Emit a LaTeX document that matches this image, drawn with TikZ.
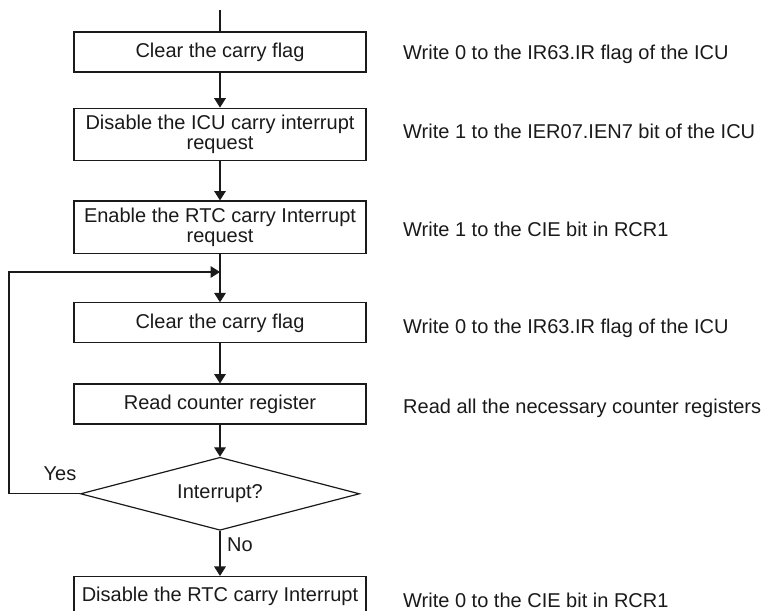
\documentclass[tikz,border=0pt]{standalone}
\usepackage{fontspec}
\setmainfont{Liberation Sans}
\usepackage{tikz}
\usetikzlibrary{arrows.meta, positioning, shapes.geometric}
\definecolor{ink}{HTML}{1A1A1A}

\begin{document}
\begin{tikzpicture}[
    x=0.5pt, y=-0.5pt,
    font=\fontsize{10}{10}\selectfont,
    line width=0.6pt,
    stp/.style={draw=ink, text=ink, minimum width=146pt, minimum height=20pt, inner xsep=2pt, inner ysep=3.5pt, align=center},
    dec/.style={diamond, draw=ink, text=ink, aspect=3.8, inner sep=0pt, minimum width=139.5pt, minimum height=36.5pt},
    note/.style={text=ink, text height=7.2pt, text depth=0pt, inner sep=0pt},
    lbl/.style={text=ink},
    ar/.style={-{Triangle[length=4.7pt, width=5.8pt]}, draw=ink}
  ]
    \useasboundingbox (0,0) rectangle (764,610);
    \clip (0,0) rectangle (764,610);
    \coordinate (top) at (220,10);
    \node[stp] (b1) at (220,52) {Clear the carry flag};
    \node[stp, below=17.5pt of b1] (b2) {Disable the ICU carry interrupt\\request};
    \node[stp, below=19.5pt of b2] (b3) {Enable the RTC carry Interrupt\\request};
    \node[stp, below=24pt of b3] (b4) {Clear the carry flag};
    \node[stp, below=20pt of b4] (b5) {Read counter register};
    \node[dec, below=16pt of b5] (dia) {Interrupt?};
    \node[stp, below=22.5pt of dia] (b6) {Disable the RTC carry Interrupt};
    % notes on the right
    \node[note, right=18pt of b1] (n1) {Write 0 to the IR63.IR flag of the ICU};
    \node[note, right=18pt of b2, yshift=1.75pt] (n2) {Write 1 to the IER07.IEN7 bit of the ICU};
    \node[note, right=18pt of b3, yshift=-1pt] (n3) {Write 1 to the CIE bit in RCR1};
    \node[note, right=18pt of b4, yshift=-1.75pt] (n4) {Write 0 to the IR63.IR flag of the ICU};
    \node[note, right=18pt of b5, yshift=-1.25pt] (n5) {Read all the necessary counter registers};
    \node[note, right=18pt of b6, yshift=-2pt] (n6) {Write 0 to the CIE bit in RCR1};
    \node[lbl] (yes) at (60,474) {Yes};
    \node[lbl] (no) at (240,545) {No};
    % flow
    \coordinate (join) at (220,272);
    \coordinate (lx) at (9,272);
    \draw[draw=ink] (top) -- (b1);
    \draw[ar] (b1) -- (b2);
    \draw[ar] (b2) -- (b3);
    \draw[ar] (b3) -- (b4);
    \draw[ar] (b4) -- (b5);
    \draw[ar] (b5) -- (dia);
    \draw[ar] (dia) -- (b6);
    \draw[ar] (dia.west) -| (lx) -- (join);
\end{tikzpicture}
\end{document}
